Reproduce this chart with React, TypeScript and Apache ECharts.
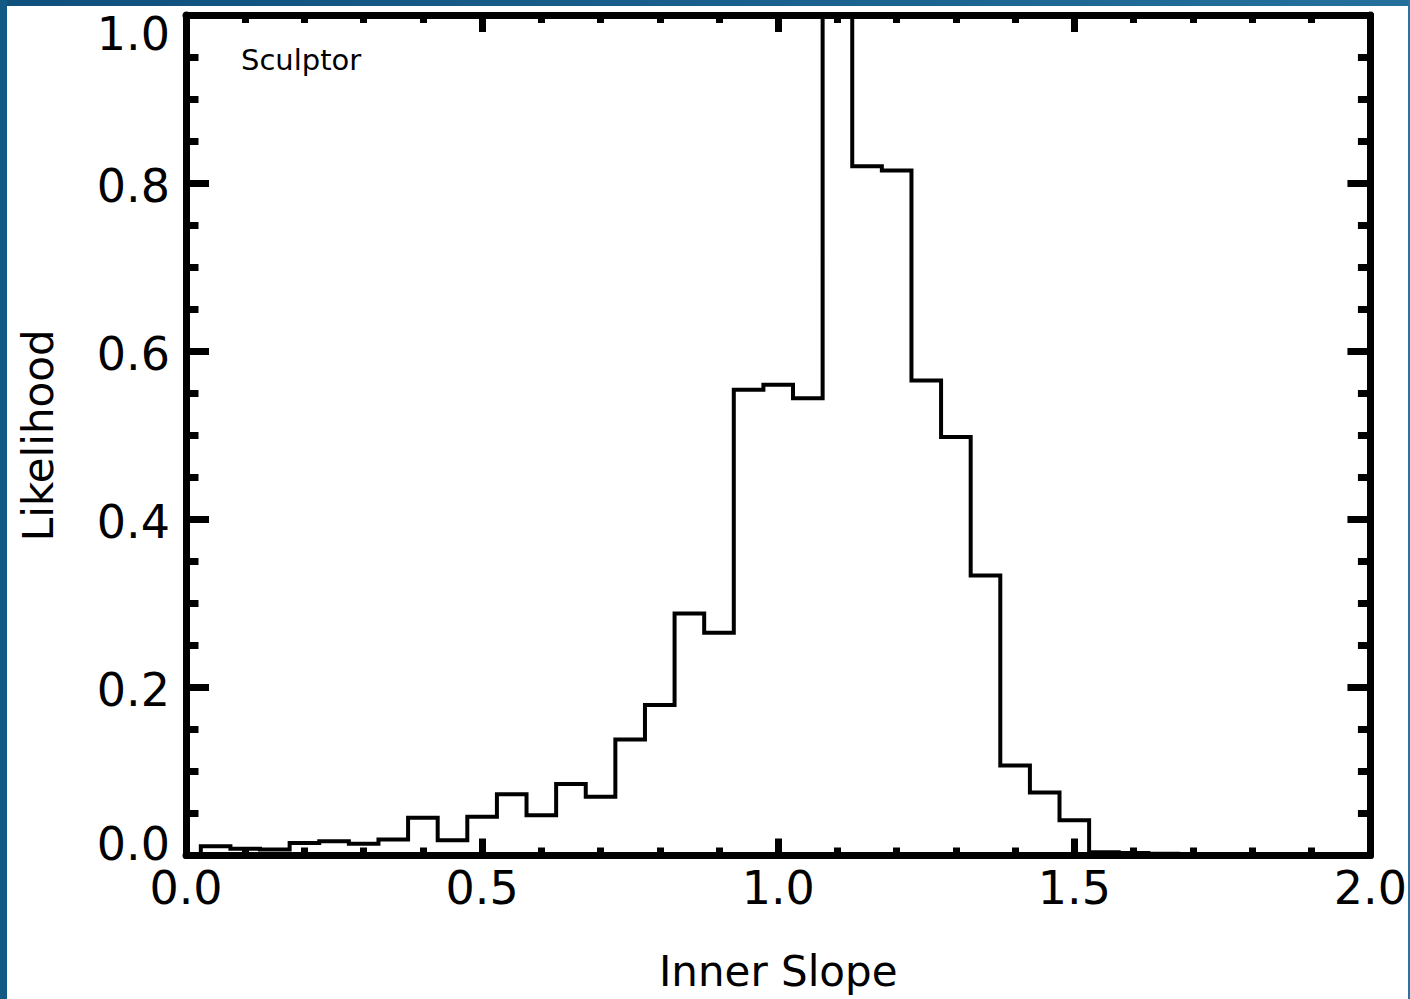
import React, { useEffect, useRef } from "react";
import * as echarts from "echarts";

const binWidth = 0.05;
const binCenters = [
  0.05, 0.1, 0.15, 0.2, 0.25, 0.3, 0.35, 0.4, 0.45, 0.5,
  0.55, 0.6, 0.65, 0.7, 0.75, 0.8, 0.85, 0.9, 0.95, 1.0,
  1.05, 1.1, 1.15, 1.2, 1.25, 1.3, 1.35, 1.4, 1.45, 1.5,
  1.55, 1.6, 1.65,
];
const likelihood = [
  0.011, 0.008, 0.007, 0.015, 0.017, 0.014, 0.019, 0.045, 0.018, 0.046,
  0.073, 0.048, 0.085, 0.07, 0.138, 0.179, 0.288, 0.265, 0.554, 0.56,
  0.544, 1.15, 0.82, 0.815, 0.565, 0.498, 0.333, 0.107, 0.075, 0.042,
  0.004, 0.003, 0.002,
];
const xTicks = [0, 0.5, 1.0, 1.5, 2.0];
const yTicks = [0, 0.2, 0.4, 0.6, 0.8, 1.0];
const panelLabel = "Sculptor";
const xTitle = "Inner Slope";
const yTitle = "Likelihood";

const FONT = "DejaVu Sans";

function buildSteps() {
  const pts: [number, number][] = [];
  const first = binCenters[0] - binWidth / 2;
  pts.push([first, 0]);
  binCenters.forEach((c, i) => {
    const l = c - binWidth / 2;
    const r = c + binWidth / 2;
    pts.push([l, likelihood[i]]);
    pts.push([r, likelihood[i]]);
  });
  const last = binCenters[binCenters.length - 1] + binWidth / 2;
  pts.push([last, 0]);
  return pts;
}

export default function App() {
  const ref = useRef<HTMLDivElement>(null);
  useEffect(() => {
    document.body.style.margin = "0";
    if (!ref.current) return;
    const chart = echarts.init(ref.current, undefined, { renderer: "svg" });
    const tickStyle = { color: "#000", width: 7, cap: "butt" as const };
    const commonX = {
      type: "value" as const,
      min: xTicks[0],
      max: xTicks[xTicks.length - 1],
      interval: 0.5,
      z: 5,
      splitLine: { show: false },
      axisLine: { show: true, onZero: false, lineStyle: { color: "#000", width: 7 } },
      axisTick: { show: true, inside: true, length: 17, lineStyle: tickStyle },
      minorTick: { show: true, splitNumber: 5, length: 8, lineStyle: tickStyle },
    };
    const commonY = {
      type: "value" as const,
      min: yTicks[0],
      max: yTicks[yTicks.length - 1],
      interval: 0.2,
      z: 5,
      splitLine: { show: false },
      axisLine: { show: true, onZero: false, lineStyle: { color: "#000", width: 7 } },
      axisTick: { show: true, inside: true, length: 23, lineStyle: tickStyle },
      minorTick: { show: true, splitNumber: 4, length: 12.5, lineStyle: tickStyle },
    };
    chart.setOption({
      animation: false,
      backgroundColor: "#fff",
      grid: { left: 186, right: 37, top: 15, bottom: 143.5, containLabel: false },
      title: {
        text: panelLabel,
        left: 236,
        top: 40,
        textStyle: { fontFamily: FONT, fontSize: 29, fontWeight: "normal", color: "#000" },
      },
      xAxis: [
        {
          ...commonX,
          position: "bottom",
          name: xTitle,
          nameLocation: "middle",
          nameGap: 95,
          nameTextStyle: { fontFamily: FONT, fontSize: 42, color: "#000" },
          axisLabel: {
            show: true,
            margin: 9,
            fontFamily: FONT,
            fontSize: 46,
            color: "#000",
            formatter: (v: number) => v.toFixed(1),
          },
        },
        { ...commonX, position: "top", axisLabel: { show: false } },
      ],
      yAxis: [
        {
          ...commonY,
          position: "left",
          name: yTitle,
          nameLocation: "middle",
          nameGap: 127,
          nameRotate: 90,
          nameTextStyle: { fontFamily: FONT, fontSize: 42, color: "#000" },
          axisLabel: {
            show: true,
            margin: 16,
            color: "#000",
            formatter: (v: number) => {
              const s = v.toFixed(1);
              if (Math.abs(v - 1) < 1e-9) return "{t|" + s + "}";
              if (Math.abs(v) < 1e-9) return "{b|" + s + "}";
              return "{n|" + s + "}";
            },
            rich: {
              t: { fontFamily: FONT, fontSize: 46, color: "#000", padding: [38, 0, 0, 0] },
              b: { fontFamily: FONT, fontSize: 46, color: "#000", padding: [0, 0, 24, 0] },
              n: { fontFamily: FONT, fontSize: 46, color: "#000", padding: [6, 0, 0, 0] },
            },
          },
        },
        { ...commonY, position: "right", axisLabel: { show: false } },
      ],
      series: [
        {
          type: "line",
          data: buildSteps(),
          xAxisIndex: 0,
          yAxisIndex: 0,
          symbol: "none",
          clip: true,
          z: 2,
          lineStyle: { color: "#000", width: 4, join: "miter" },
        },
      ],
      graphic: [
        {
          type: "rect",
          z: 100,
          shape: { x: 0, y: 0, width: 1410, height: 6 },
          style: {
            fill: new echarts.graphic.LinearGradient(0, 0, 1, 0, [
              { offset: 0, color: "#0f4f7b" },
              { offset: 1, color: "#24709c" },
            ]),
          },
        },
        {
          type: "rect",
          z: 100,
          shape: { x: 0, y: 0, width: 7, height: 999 },
          style: { fill: "#135985" },
        },
        {
          type: "rect",
          z: 100,
          shape: { x: 1408, y: 0, width: 2, height: 999 },
          style: { fill: "#2a73a3" },
        },
      ],
    });
    return () => chart.dispose();
  }, []);
  return <div ref={ref} style={{ width: 1410, height: 999 }} />;
}
